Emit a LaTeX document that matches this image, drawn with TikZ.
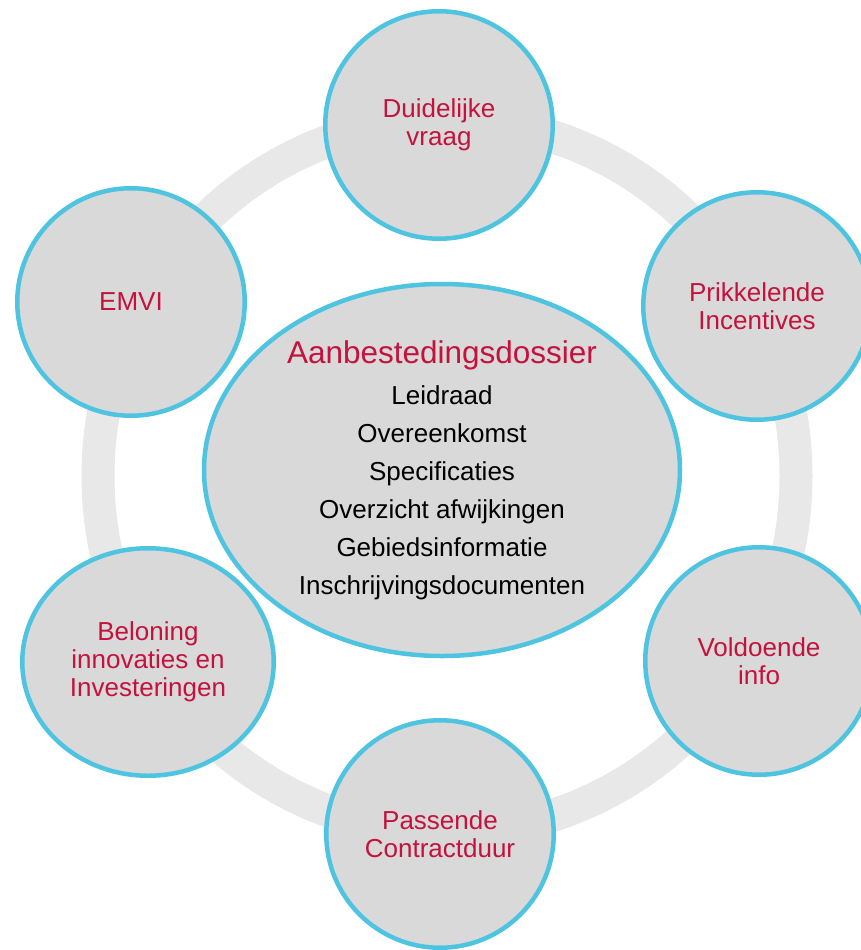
\documentclass[tikz,border=0pt]{standalone}
\usepackage{fontspec}
\setmainfont{Liberation Sans}
\usetikzlibrary{shapes.geometric}
\definecolor{ringgrey}{RGB}{232,232,232}
\definecolor{bubblefill}{RGB}{217,217,217}
\definecolor{bubbleline}{RGB}{78,196,224}
\definecolor{titlered}{RGB}{196,18,60}
\tikzstyle{ring} = [draw=ringgrey, line width=33pt]
\tikzstyle{topic} = [circle, minimum size=227.5pt, inner sep=0pt, align=center, draw=bubbleline, line width=4.5pt, fill=bubblefill, text=titlered, font=\fontsize{26}{28}\selectfont]
\tikzstyle{widetopic} = [topic, ellipse, minimum width=251.5pt, minimum height=227.5pt]
\tikzstyle{dossier} = [ellipse, minimum width=476pt, minimum height=372pt, inner sep=0pt, align=center, draw=bubbleline, line width=4.5pt, fill=bubblefill, text=black, font=\fontsize{26}{38}\selectfont]

\begin{document}
\begin{tikzpicture}[x=1pt, y=-1pt]
		\clip (0,0) rectangle (861,950);
		\draw [ring] (447,476) ellipse [x radius=349pt, y radius=356pt];
		\node (duidelijk) [topic] at (439,125) {Duidelijke\\vraag};
		\node (prikkel) [topic] at (757,306) {Prikkelende\\Incentives};
		\node (voldoende) [topic] at (759,661) {Voldoende\\info};
		\node (passend) [topic] at (440,834) {Passende\\Contractduur};
		\node (beloning) [widetopic] at (148,662) {Beloning\\innovaties en\\Investeringen};
		\node (emvi) [topic] at (131,302) {EMVI};
		\node (dossier) [dossier] at (442,470) {{\color{titlered}\fontsize{31.5}{38}\selectfont Aanbestedingsdossier}\\[3pt]Leidraad\\Overeenkomst\\Specificaties\\Overzicht afwijkingen\\Gebiedsinformatie\\Inschrijvingsdocumenten};
	\end{tikzpicture}
\end{document}
